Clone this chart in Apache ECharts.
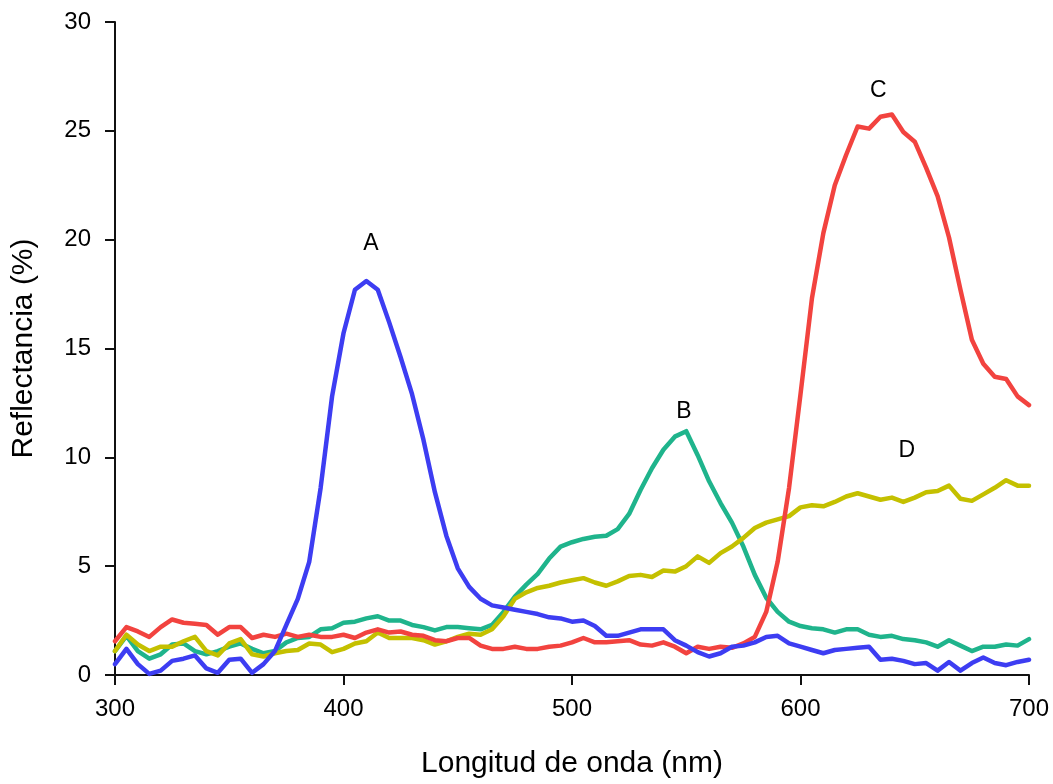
<!DOCTYPE html>
<html>
<head>
<meta charset="utf-8">
<script src="https://cdn.jsdelivr.net/npm/echarts@6/dist/echarts.min.js"></script>
<style>
  html, body { margin: 0; padding: 0; background: #fff; }
  #chart { width: 1053px; height: 784px; }
</style>
</head>
<body>
<div id="chart"></div>
<script>
// Wavelengths (nm)
const wavelengths = [300,305,310,315,320,325,330,335,340,345,350,355,360,365,370,375,380,385,390,395,
  400,405,410,415,420,425,430,435,440,445,450,455,460,465,470,475,480,485,490,495,
  500,505,510,515,520,525,530,535,540,545,550,555,560,565,570,575,580,585,590,595,
  600,605,610,615,620,625,630,635,640,645,650,655,660,665,670,675,680,685,690,695,700];

// Series A (blue)
const seriesA = [0.5,1.2,0.5,0.05,0.2,0.65,0.75,0.9,0.3,0.1,0.7,0.75,0.1,0.5,1.1,2.3,3.5,5.2,8.6,12.8,
  15.7,17.7,18.1,17.7,16.2,14.6,12.9,10.8,8.4,6.4,4.9,4.05,3.5,3.2,3.1,3.0,2.9,2.8,2.65,2.6,
  2.45,2.5,2.25,1.8,1.8,1.95,2.1,2.1,2.1,1.6,1.35,1.05,0.85,1.0,1.3,1.35,1.5,1.75,1.8,1.45,
  1.3,1.15,1.0,1.15,1.2,1.25,1.3,0.7,0.75,0.65,0.5,0.55,0.2,0.6,0.2,0.55,0.8,0.55,0.45,0.6,0.7];

// Series B (green)
const seriesB = [1.1,1.8,1.1,0.75,0.95,1.4,1.45,1.1,0.95,1.1,1.3,1.45,1.2,1.0,1.1,1.5,1.7,1.75,2.1,2.15,
  2.4,2.45,2.6,2.7,2.5,2.5,2.3,2.2,2.05,2.2,2.2,2.15,2.1,2.3,2.9,3.6,4.15,4.65,5.35,5.9,
  6.1,6.25,6.35,6.4,6.7,7.4,8.5,9.5,10.35,10.95,11.2,10.1,8.9,7.9,7.0,5.9,4.6,3.55,2.9,2.45,
  2.25,2.15,2.1,1.95,2.1,2.1,1.85,1.75,1.8,1.65,1.6,1.5,1.3,1.6,1.35,1.1,1.3,1.3,1.4,1.35,1.65];

// Series C (red)
const seriesC = [1.55,2.2,2.0,1.75,2.2,2.55,2.4,2.35,2.3,1.85,2.2,2.2,1.7,1.85,1.75,1.9,1.75,1.85,1.75,1.75,
  1.85,1.7,1.95,2.1,1.95,2.0,1.85,1.8,1.6,1.55,1.7,1.7,1.35,1.2,1.2,1.3,1.2,1.2,1.3,1.35,
  1.5,1.7,1.5,1.5,1.55,1.6,1.4,1.35,1.5,1.3,1.0,1.3,1.2,1.3,1.25,1.45,1.75,2.9,5.2,8.6,
  12.9,17.3,20.3,22.5,23.9,25.2,25.1,25.65,25.75,24.95,24.5,23.3,22.0,20.1,17.7,15.4,14.3,13.7,13.6,12.8,12.4];

// Series D (yellow)
const seriesD = [1.1,1.85,1.4,1.1,1.3,1.3,1.55,1.75,1.1,0.9,1.45,1.65,0.95,0.85,1.0,1.1,1.15,1.45,1.4,1.05,
  1.2,1.45,1.55,1.95,1.7,1.7,1.7,1.6,1.4,1.55,1.75,1.9,1.85,2.1,2.7,3.5,3.8,4.0,4.1,4.25,
  4.35,4.45,4.25,4.1,4.3,4.55,4.6,4.5,4.8,4.75,5.0,5.45,5.15,5.6,5.9,6.3,6.75,7.0,7.15,7.3,
  7.7,7.8,7.75,7.95,8.2,8.35,8.2,8.05,8.15,7.95,8.15,8.4,8.45,8.7,8.1,8.0,8.3,8.6,8.95,8.7,8.7];

// Curve labels, positioned in data units
const labelNames = ['A', 'B', 'C', 'D'];
const labelX = [412, 549, 634, 646.5];
const labelY = [19.8, 12.1, 26.85, 10.3];

// Axis ticks
const xTicks = [300, 400, 500, 600, 700];
const yTicks = [0, 5, 10, 15, 20, 25, 30];

const FONT = "'Liberation Sans', Arial, Helvetica, sans-serif";

function pairs(ys) { return wavelengths.map((x, i) => [x, ys[i]]); }

function lineSeries(name, ys, color) {
  return {
    name: name, type: 'line', data: pairs(ys), showSymbol: false, symbol: 'none',
    lineStyle: { color: color, width: 4.5, join: 'round', cap: 'round' },
    itemStyle: { color: color }, silent: true, animation: false
  };
}

const chart = echarts.init(document.getElementById('chart'), null, { renderer: 'canvas' });
chart.setOption({
  backgroundColor: '#ffffff',
  animation: false,
  grid: { left: 115, right: 24, top: 22, bottom: 107, containLabel: false },
  xAxis: {
    type: 'value', min: xTicks[0], max: xTicks[xTicks.length - 1], interval: 100,
    name: 'Longitud de onda (nm)', nameLocation: 'middle', nameGap: 74,
    nameTextStyle: { fontFamily: FONT, fontSize: 30, color: '#000' },
    axisLine: { show: true, lineStyle: { color: '#111', width: 2 } },
    axisTick: { show: true, inside: false, length: 10, lineStyle: { color: '#111', width: 2 } },
    axisLabel: { fontFamily: FONT, fontSize: 24, color: '#000', margin: 22 },
    splitLine: { show: false }
  },
  yAxis: {
    type: 'value', min: yTicks[0], max: yTicks[yTicks.length - 1], interval: 5,
    name: 'Reflectancia (%)', nameLocation: 'middle', nameGap: 76,
    nameTextStyle: { fontFamily: FONT, fontSize: 30, color: '#000' },
    axisLine: { show: true, lineStyle: { color: '#111', width: 2 } },
    axisTick: { show: true, inside: false, length: 10, lineStyle: { color: '#111', width: 2 } },
    axisLabel: { fontFamily: FONT, fontSize: 24, color: '#000', margin: 24 },
    splitLine: { show: false }
  },
  series: [
    lineSeries('B', seriesB, '#1fb48c'),
    lineSeries('D', seriesD, '#c4c000'),
    lineSeries('C', seriesC, '#f2433f'),
    lineSeries('A', seriesA, '#3d3df2'),
    {
      type: 'scatter', symbolSize: 0, silent: true, z: 5,
      itemStyle: { opacity: 1, color: '#000' },
      data: labelNames.map((n, i) => ({ name: n, value: [labelX[i], labelY[i]] })),
      label: {
        show: true, position: 'inside', formatter: p => p.name,
        fontFamily: FONT, fontSize: 23, color: '#000', opacity: 1,
        textBorderWidth: 0
      }
    }
  ]
});
</script>
</body>
</html>
